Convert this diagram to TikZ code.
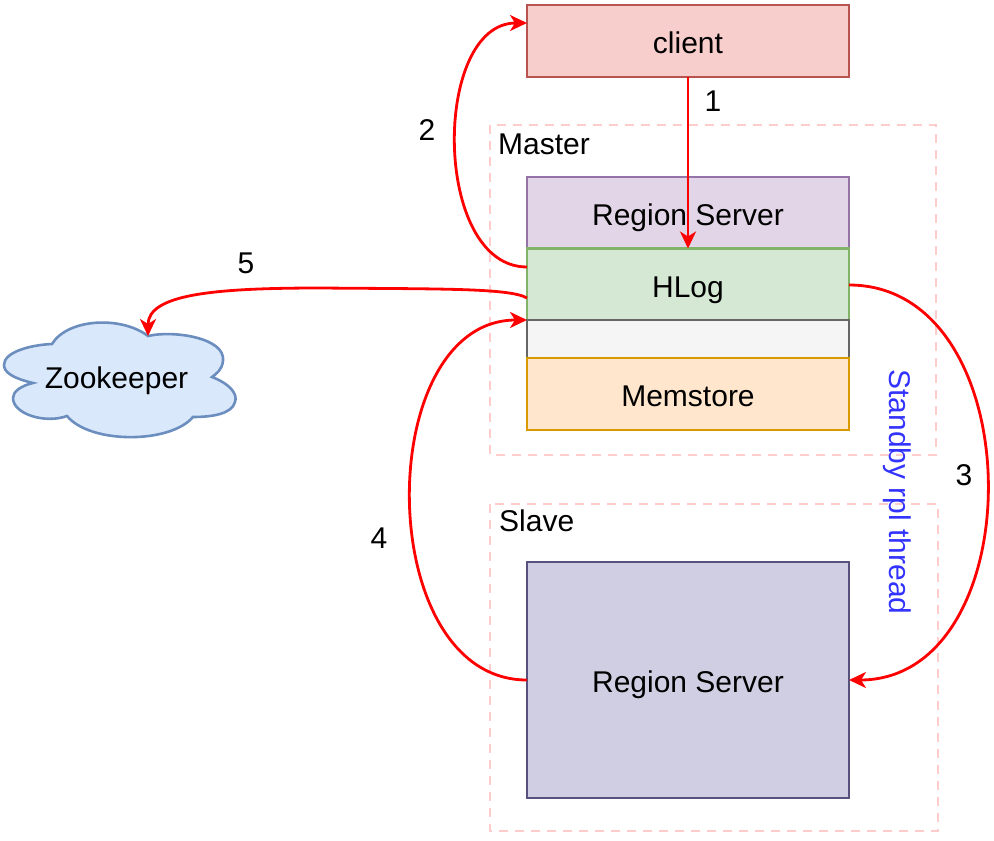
\documentclass[tikz,border=0pt]{standalone}
\usepackage{fontspec}
\setmainfont{Liberation Sans}
\usetikzlibrary{arrows.meta}
\definecolor{clientfill}{HTML}{F8CECC}
\definecolor{clientdraw}{HTML}{B85450}
\definecolor{regionfill}{HTML}{E1D5E7}
\definecolor{regiondraw}{HTML}{9673A6}
\definecolor{hlogfill}{HTML}{D5E8D4}
\definecolor{hlogdraw}{HTML}{82B366}
\definecolor{blankfill}{HTML}{F5F5F5}
\definecolor{blankdraw}{HTML}{666666}
\definecolor{memfill}{HTML}{FFE6CC}
\definecolor{memdraw}{HTML}{D79B00}
\definecolor{slavefill}{HTML}{D0CEE2}
\definecolor{slavedraw}{HTML}{56517E}
\definecolor{cloudfill}{HTML}{DAE8FC}
\definecolor{clouddraw}{HTML}{6C8EBF}
\definecolor{groupdraw}{HTML}{FFCCCC}
\definecolor{threadtext}{HTML}{3333FF}
\tikzset{
	box/.style={draw, line width=2.8pt, minimum width=322pt, inner sep=0pt, outer sep=0pt, text height=26pt, text depth=1pt},
	group/.style={draw=groupdraw, line width=2.6pt, dash pattern=on 9pt off 7pt},
	label/.style={inner sep=0pt, text=black},
	link/.style={draw=red, line width=2.8pt, -{Stealth[length=17pt, width=16pt, inset=5pt]}}
}
\begin{document}
\begin{tikzpicture}[x=1pt, y=-1pt, font=\fontsize{30}{36}\selectfont]
	\useasboundingbox (0, 0) rectangle (994, 841);
	% Gruppen
	\draw[group] (490, 125) rectangle (936, 455);
	\draw[group] (490, 504) rectangle (938, 831);
	\node[label, anchor=west] (master) at (498, 144) {Master};
	\node[label, anchor=west] (slave) at (499, 521) {Slave};
	% Boxen
	\node[box, fill=clientfill, draw=clientdraw, minimum height=72pt] (client) at (688, 41) {client};
	\node[box, fill=regionfill, draw=regiondraw, minimum height=71pt] (region) at (688, 212.5) {Region Server};
	\node[box, fill=hlogfill, draw=hlogdraw, minimum height=72pt] (hlog) at (688, 284.5) {HLog};
	\node[box, fill=blankfill, draw=blankdraw, minimum height=38pt] (blank) at (688, 339) {};
	\node[box, fill=memfill, draw=memdraw, minimum height=72pt] (mem) at (688, 394) {Memstore};
	\node[box, fill=slavefill, draw=slavedraw, minimum height=236pt] (slaveregion) at (688, 680) {Region Server};
	% Wolke
	\draw[fill=cloudfill, draw=clouddraw, line width=2.6pt]
		(52, 344) .. controls (68, 318) and (122, 316) .. (148, 336)
		.. controls (174, 330) and (226, 338) .. (223, 361)
		.. controls (222, 370) and (216, 374) .. (212, 377)
		.. controls (230, 384) and (238, 394) .. (235, 402)
		.. controls (232, 414) and (212, 417) .. (193, 417)
		.. controls (170, 444) and (90, 444) .. (67, 416)
		.. controls (45, 424) and (13, 414) .. (13, 398)
		.. controls (13, 392) and (20, 386) .. (33, 383)
		.. controls (12, 378) and (4, 372) .. (4, 365)
		.. controls (4, 352) and (30, 345) .. (52, 344) -- cycle;
	\node[label] (zookeeper) at (116.5, 381) {Zookeeper};
	\coordinate (zktop) at (148, 336);
	% Hilfspunkte
	\coordinate (clientupper) at (527, 23);
	\coordinate (hlogupper) at (527, 267);
	\coordinate (hloglower) at (527, 298);
	\coordinate (hlogright) at (849, 285);
	% Verbindungen
	\draw[link] (client.south) -- (hlog.north);
	\draw[link] (hlogupper) .. controls (432, 267) and (432, 23) .. (clientupper);
	\draw[link] (hlogright) .. controls (1033, 285) and (1033, 680) .. (slaveregion.east);
	\draw[link] (slaveregion.west) .. controls (372, 680) and (372, 320) .. (blank.north west);
	\draw[link] (hloglower) .. controls (510, 288) and (440, 289) .. (320, 288)
		.. controls (210, 288) and (148, 295) .. (zktop);
	% Nummern
	\node[label] (one) at (713, 101) {1};
	\node[label] (two) at (427, 130) {2};
	\node[label] (three) at (964, 475) {3};
	\node[label] (four) at (379, 538) {4};
	\node[label] (five) at (246, 263) {5};
	\node[label, text=threadtext, rotate=-90] (thread) at (897, 492) {Standby rpl thread};
\end{tikzpicture}
\end{document}
